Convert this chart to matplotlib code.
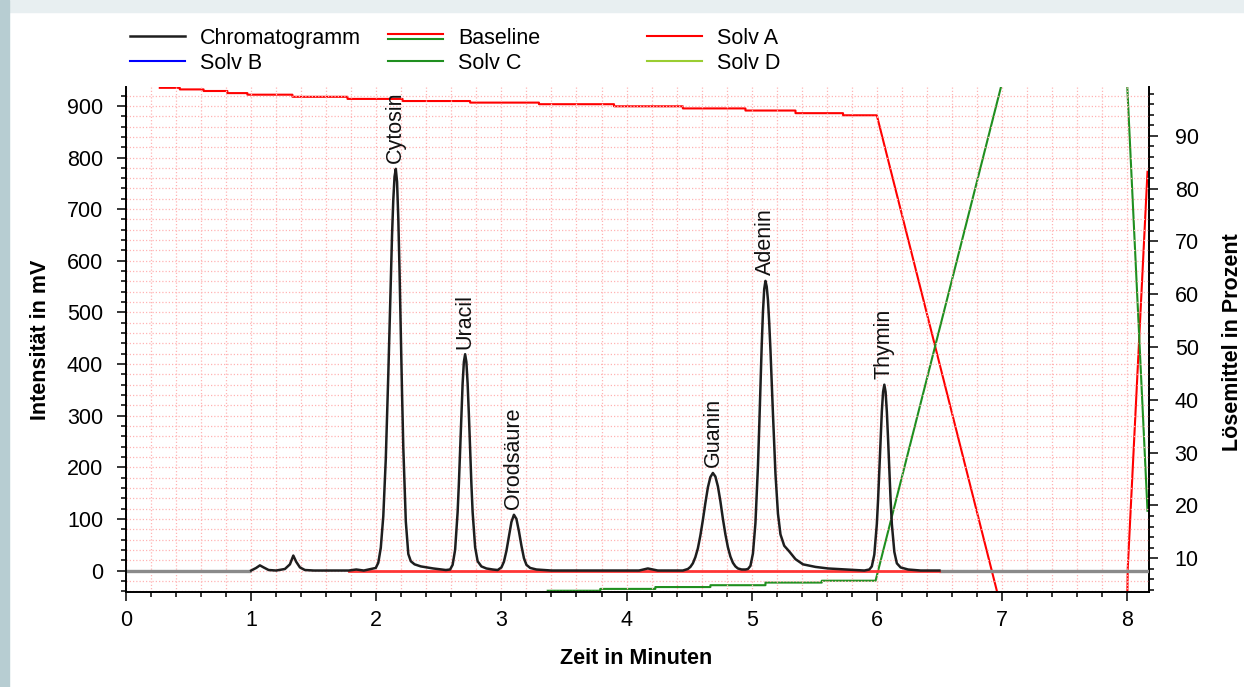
import matplotlib
matplotlib.use("Agg")
import matplotlib.pyplot as plt
from matplotlib.lines import Line2D
from matplotlib.legend_handler import HandlerBase
from matplotlib.patches import Rectangle
from matplotlib.ticker import MultipleLocator

plt.rcParams['font.family'] = ['Liberation Sans', 'DejaVu Sans']
plt.rcParams['font.size'] = 15.5

# --- Chromatogramm (Zeit in min, Intensität in mV) ---
chrom_t = [1.00, 1.04, 1.07, 1.10, 1.14, 1.20, 1.27, 1.31, 1.337, 1.36, 1.39, 1.43, 1.50,
           1.78, 1.84, 1.90,
           # Cytosin
           1.996, 2.016, 2.036, 2.056, 2.076, 2.096, 2.106, 2.116, 2.126, 2.136, 2.146, 2.156,
           2.166, 2.176, 2.186, 2.196, 2.206, 2.216, 2.236, 2.256, 2.276, 2.306, 2.356, 2.456,
           2.556,
           # Uracil
           2.59, 2.61, 2.63, 2.65, 2.66, 2.67, 2.68, 2.69, 2.70, 2.71, 2.72, 2.73, 2.74, 2.75,
           2.76, 2.77, 2.79, 2.81, 2.84, 2.88, 2.93, 2.97,
           # Orodsäure
           3.00, 3.02, 3.04, 3.06, 3.08, 3.10, 3.12, 3.14, 3.16, 3.18, 3.20, 3.23, 3.28, 3.40,
           4.10, 4.17, 4.25,
           # Guanin
           4.45, 4.49, 4.51, 4.53, 4.55, 4.57, 4.59, 4.61, 4.63, 4.65, 4.67, 4.69, 4.71, 4.73,
           4.75, 4.77, 4.79, 4.81, 4.83, 4.85, 4.87, 4.89, 4.92, 4.95,
           # Adenin
           4.97, 4.99, 5.01, 5.03, 5.05, 5.06, 5.07, 5.08, 5.09, 5.10, 5.11, 5.12, 5.13, 5.14,
           5.15, 5.17, 5.19, 5.21, 5.23, 5.26, 5.30, 5.35, 5.41, 5.51, 5.61, 5.76, 5.90,
           # Thymin
           5.94, 5.96, 5.98, 6.00, 6.01, 6.02, 6.03, 6.04, 6.05, 6.06, 6.07, 6.08, 6.09, 6.10,
           6.11, 6.12, 6.14, 6.16, 6.19, 6.25, 6.35, 6.50]
chrom_mv = [0, 5, 10, 6, 1, 0, 3, 12, 29, 17, 6, 1, 0,
            0, 2, 0,
            5, 15, 44, 105, 216, 379, 472, 565, 650, 718, 763, 778,
            753, 682, 579, 460, 342, 238, 95, 32, 18, 12, 8, 4,
            1,
            2, 11, 40, 113, 168, 234, 302, 362, 404, 419, 404, 362, 302, 234,
            168, 113, 45, 18, 8, 4, 2, 1,
            6, 17, 38, 66, 94, 108, 100, 76, 48, 24, 11, 5, 2, 0,
            0, 4, 0,
            0, 3, 7, 14, 26, 43, 68, 98, 131, 161, 181, 189, 182, 163,
            134, 100, 70, 45, 27, 15, 8, 4, 2, 2,
            3, 9, 33, 92, 202, 276, 357, 435, 501, 545, 561, 550, 524, 480,
            427, 303, 187, 110, 70, 48, 37, 22, 12, 7, 4, 2, 0,
            2, 8, 31, 90, 137, 194, 254, 308, 346, 360, 346, 308, 254, 194,
            137, 90, 36, 14, 6, 2, 0, 0]

# grau dargestellte Nulllinie ausserhalb des Auswertebereichs
grey_runs_t = [[0.0, 1.0], [6.50, 8.18]]
grey_runs_mv = [[0, 0], [0, 0]]

# Baseline (rot) im Auswertebereich
baseline_t = [1.78, 6.50]
baseline_mv = [0, 0]

# Peaks
peak_names = ['Cytosin', 'Uracil', 'Orodsäure', 'Guanin', 'Adenin', 'Thymin']
peak_t = [2.156, 2.71, 3.10, 4.69, 5.11, 6.06]
peak_mv = [778, 419, 108, 189, 561, 360]

# --- Gradient (Lösemittel in Prozent) ---
solv_a_t = [0.27, 0.43, 0.43, 0.62, 0.62, 0.81, 0.81, 0.97, 0.97, 1.33, 1.33, 1.77, 1.77,
            2.21, 2.21, 2.75, 2.75, 3.30, 3.30, 3.90, 3.90, 4.45, 4.45, 4.95, 4.95, 5.35,
            5.35, 5.73, 5.73, 6.00, 7.00, 8.00, 8.005, 8.163]
solv_a_pct = [99.1, 99.1, 98.8, 98.8, 98.5, 98.5, 98.1, 98.1, 97.8, 97.8, 97.4, 97.4, 97.0,
              97.0, 96.6, 96.6, 96.3, 96.3, 96.0, 96.0, 95.6, 95.6, 95.2, 95.2, 94.8, 94.8,
              94.3, 94.3, 93.9, 93.9, 0.0, 0.0, 8.0, 83.2]

solv_b_t = [0.0, 8.18]
solv_b_pct = [0.0, 0.0]

solv_c_t = [3.37, 3.79, 3.79, 4.23, 4.23, 4.67, 4.67, 5.11, 5.11, 5.56, 5.56, 5.99,
            7.00, 8.00, 8.163]
solv_c_pct = [3.85, 3.85, 4.2, 4.2, 4.55, 4.55, 4.9, 4.9, 5.4, 5.4, 5.75, 5.75,
              100.0, 100.0, 19.0]

solv_d_t = [0.0, 8.18]
solv_d_pct = [0.0, 0.0]

RED = '#ff0000'
GREEN = '#1f8f1f'


class DoppelLinie(HandlerBase):
    # Legenden-Symbol der Baseline: rote und gruene Linie uebereinander
    def create_artists(self, legend, orig_handle, xdescent, ydescent, width, height,
                       fontsize, trans):
        y = height / 2.0 - ydescent
        oben = Line2D([-xdescent, width - xdescent], [y + 1.5, y + 1.5], color=RED, lw=1.5,
                      transform=trans)
        unten = Line2D([-xdescent, width - xdescent], [y - 1.5, y - 1.5], color=GREEN, lw=1.5,
                       transform=trans)
        return [oben, unten]


fig = plt.figure(figsize=(12.44, 6.87), dpi=100)
fig.patch.set_facecolor('white')
fig.patches.append(Rectangle((0, 1 - 12 / 687), 1, 12 / 687, transform=fig.transFigure,
                             color='#e8eff1', zorder=0))
fig.patches.append(Rectangle((0, 0), 9 / 1244, 1, transform=fig.transFigure,
                             color='#b7cdd2', zorder=0))

ax = fig.add_axes([126 / 1244, 1 - 591.7 / 687, 1023 / 1244, 504.4 / 687])
ax2 = ax.twinx()
ax.set_zorder(ax2.get_zorder() + 1)
ax.patch.set_visible(False)

# Gradient auf der rechten Achse
l_a, = ax2.plot(solv_a_t, solv_a_pct, color=RED, lw=1.5)
l_b, = ax2.plot(solv_b_t, solv_b_pct, color='#0000ff', lw=1.5)
l_c, = ax2.plot(solv_c_t, solv_c_pct, color=GREEN, lw=1.5)
l_d, = ax2.plot(solv_d_t, solv_d_pct, color='#9acd32', lw=1.5)

# Chromatogramm auf der linken Achse
for rt, rv in zip(grey_runs_t, grey_runs_mv):
    ax.plot(rt, rv, color='#8a8a8a', lw=2.4, solid_capstyle='butt')
l_base, = ax.plot(baseline_t, baseline_mv, color='#ff3535', lw=2.0)
l_chrom, = ax.plot(chrom_t, chrom_mv, color='#1e1e1e', lw=1.8)

for name, t, mv in zip(peak_names, peak_t, peak_mv):
    ax.annotate(name, (t, mv), xytext=(0, 4), textcoords='offset points',
                rotation=90, ha='center', va='bottom', color='#111111')

ax.set_xlim(0, 8.175)
ax.set_ylim(-41, 936)
ax2.set_ylim(3.67, 99.2)

ax.xaxis.set_major_locator(MultipleLocator(1))
ax.xaxis.set_minor_locator(MultipleLocator(0.2))
ax.yaxis.set_major_locator(MultipleLocator(100))
ax.yaxis.set_minor_locator(MultipleLocator(20))
ax2.yaxis.set_major_locator(MultipleLocator(10))
ax2.yaxis.set_minor_locator(MultipleLocator(2))

ax.grid(True, which='both', color='#ffb4b4', linestyle=(0, (1, 1.6)), lw=0.9)
ax.set_axisbelow(True)

for a in (ax, ax2):
    a.spines['top'].set_visible(False)
    for s in a.spines.values():
        s.set_linewidth(1.4)
ax.spines['right'].set_visible(False)
ax2.spines['left'].set_visible(False)
ax2.spines['bottom'].set_visible(False)

ax.tick_params(axis='both', which='major', direction='out', length=6.5, width=1.1)
ax.tick_params(axis='both', which='minor', direction='out', length=3.6, width=1.1)
ax.tick_params(axis='y', which='major', pad=10)
ax.tick_params(axis='x', which='major', pad=7)
ax2.tick_params(axis='y', which='major', direction='out', length=6.5, width=1.1, pad=12)
ax2.tick_params(axis='y', which='minor', direction='out', length=3.6, width=1.1)

ax.set_xlabel('Zeit in Minuten', fontweight='bold')
ax.set_ylabel('Intensität in mV', fontweight='bold')
ax2.set_ylabel('Lösemittel in Prozent', fontweight='bold')
ax.xaxis.set_label_coords(0.4985, -0.112)
ax.yaxis.set_label_coords(-0.073, 0.50)
ax2.yaxis.set_label_coords(1.071, 0.495)

# Legende: drei Spalten, je zwei Eintraege
spalten = [([l_chrom, l_b], ['Chromatogramm', 'Solv B'], 130),
           ([l_base, l_c], ['Baseline', 'Solv C'], 388),
           ([l_a, l_d], ['Solv A', 'Solv D'], 647)]
for handles, labels, xpix in spalten:
    fig.legend(handles, labels, loc='upper left', bbox_to_anchor=(xpix / 1244, 1 - 28 / 687),
               frameon=False, borderpad=0, borderaxespad=0, handlelength=2.55,
               handletextpad=0.7, labelspacing=0.18, handler_map={l_base: DoppelLinie()})

fig.savefig('out.png', dpi=100)
